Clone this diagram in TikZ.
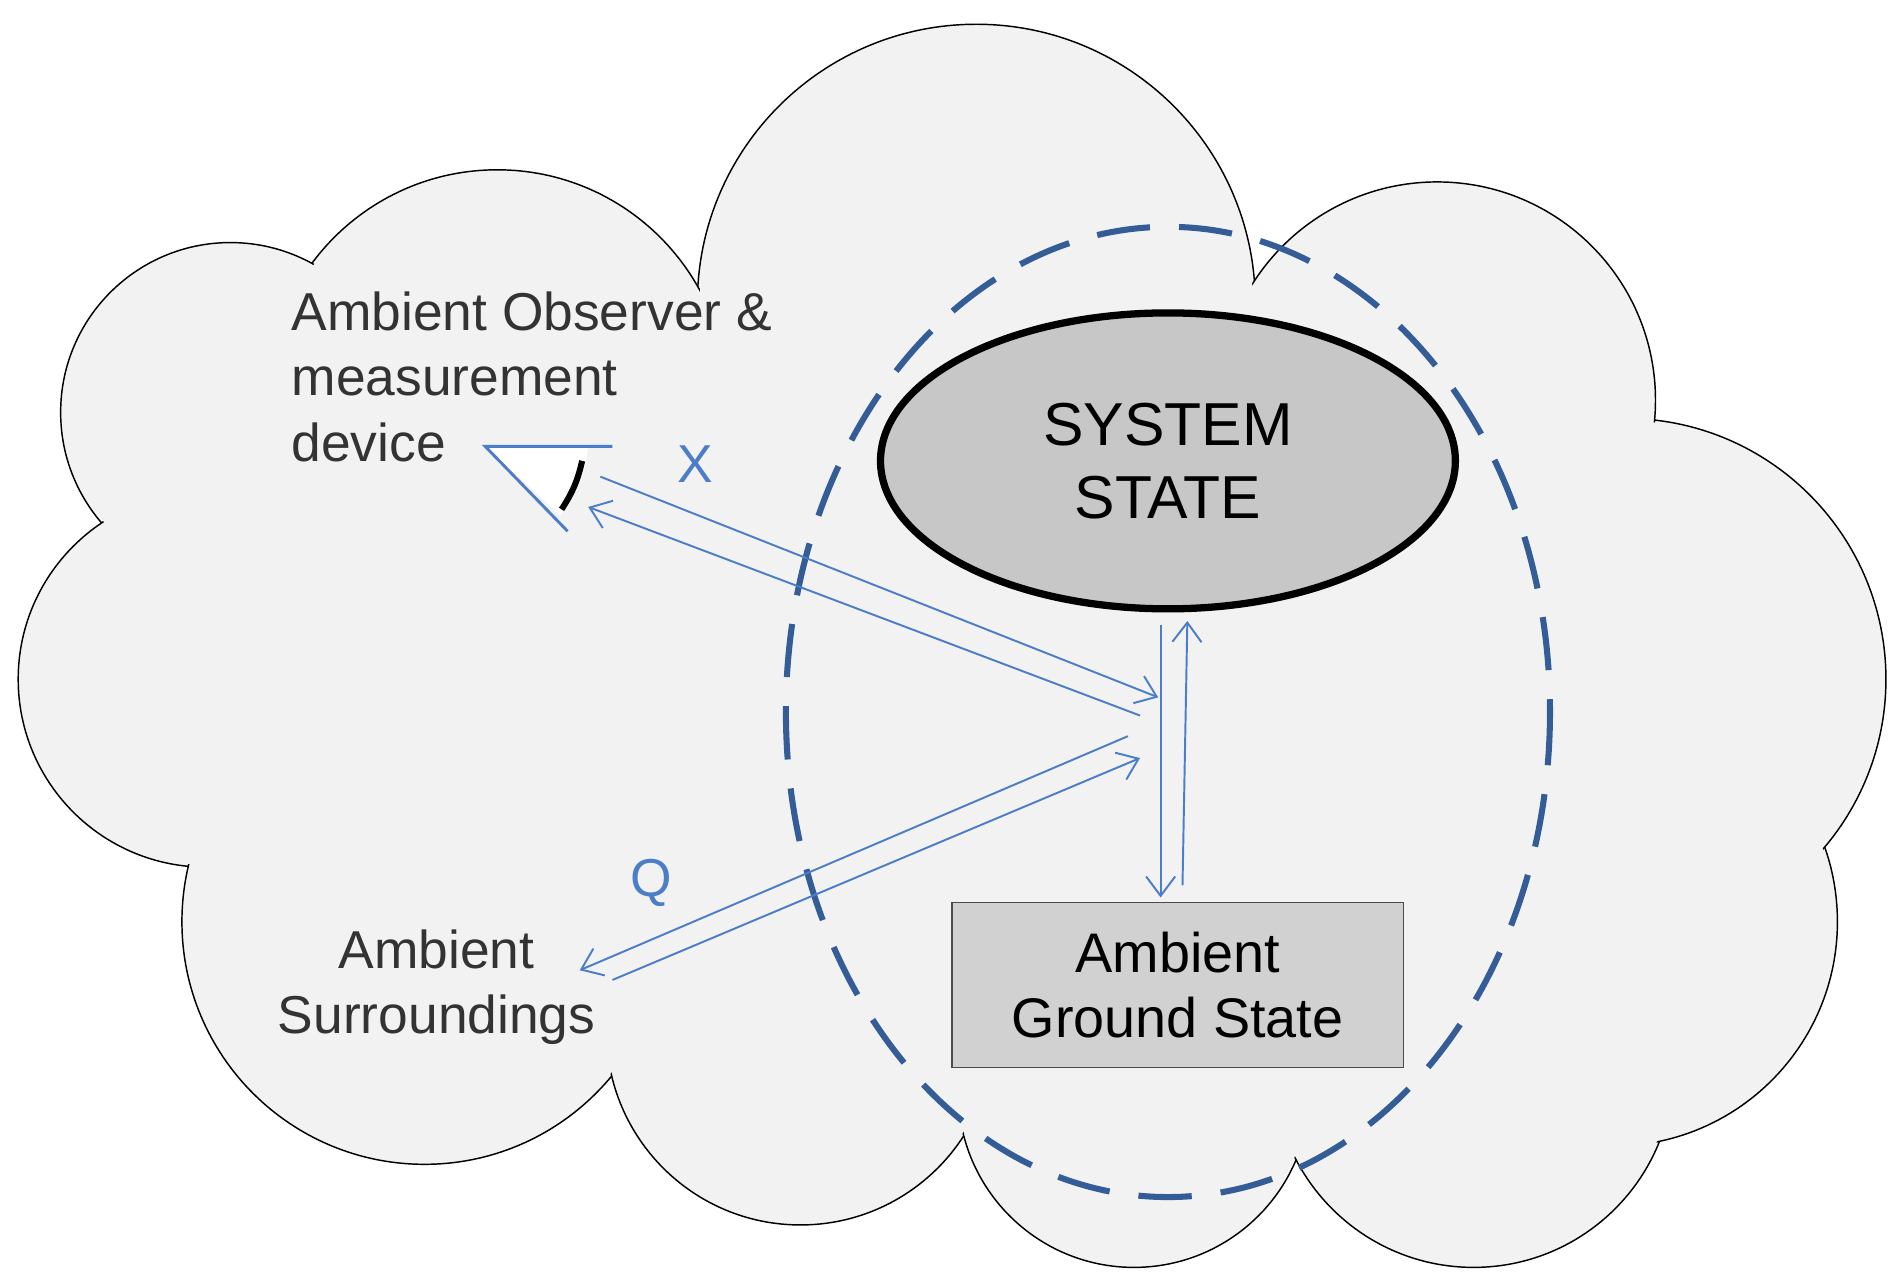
\documentclass[tikz,border=0pt]{standalone}
\usepackage{fontspec}
\setmainfont{Liberation Sans}
\usetikzlibrary{positioning,arrows.meta,shapes.geometric}
\definecolor{cloudgray}{RGB}{242,242,242}
\definecolor{dashblue}{RGB}{52,92,150}
\definecolor{arrowblue}{RGB}{75,125,200}
\tikzset{
  Lobe/.style={draw=black, line width=0.6pt, fill=cloudgray},
  Flecha/.style={-{Straight Barb[length=8pt,width=12pt]}, draw=arrowblue, line width=0.8pt},
  Rotulo/.style={text=arrowblue, font=\fontsize{22}{26}\selectfont},
  Texto/.style={text=black!80, font=\fontsize{22}{27}\selectfont, align=left, inner sep=0pt},
}
\begin{document}
\begin{tikzpicture}[x=0.5pt,y=-0.5pt]
\useasboundingbox (0,0) rectangle (1560,1060);
%Nube
\foreach \cx/\cy/\r in {805/250/230, 410/330/190, 190/340/140, 170/560/155, 350/760/200, 660/850/160, 935/900/145, 1215/880/165, 1330/760/185, 1340/560/215, 1185/330/180}
  \draw[Lobe] (\cx,\cy) circle (\r);
\foreach \cx/\cy/\r in {805/250/228, 410/330/188, 190/340/138, 170/560/153, 350/760/198, 660/850/158, 935/900/143, 1215/880/163, 1330/760/183, 1340/560/213, 1185/330/178}
  \fill[cloudgray] (\cx,\cy) circle (\r);
\fill[cloudgray] (805,250) -- (410,330) -- (190,340) -- (170,560) -- (350,760) -- (660,850) -- (935,900) -- (1215,880) -- (1330,760) -- (1340,560) -- (1185,330) -- cycle;
%Nodos
\draw[dashblue, line width=2.5pt, dash pattern=on 22pt off 12pt] (963,587) ellipse (315 and 400);
\node[ellipse, draw=black, line width=3pt, fill=black!22, minimum width=237pt, minimum height=122pt, inner sep=0pt,
  font=\fontsize{25}{30}\selectfont, align=center] (sistema) at (963,380) {SYSTEM\\STATE};
\node[draw=black!70, line width=0.6pt, fill=black!18, minimum width=186pt, minimum height=68pt, inner sep=0pt,
  font=\fontsize{23}{27}\selectfont, align=center] (fondo) at (971,812) {Ambient\\Ground State};
\node[Texto, anchor=north west] (observador) at (240,240) {Ambient Observer \&\\measurement\\device};
\node[Texto, align=center, anchor=north] (entorno) at (360,766) {Ambient\\Surroundings};
\node[Rotulo] (x) at (573,383) {X};
\node[Rotulo] (q) at (537,728) {Q};
%Ojo
\coordinate (ojo) at (400,368);
\fill[white] (ojo) -- (485,368) to[bend left=15] (462,425) -- cycle;
\draw[arrowblue, line width=1.2pt] (505,368) -- (ojo) -- (468,438);
\draw[black, line width=2.5pt] (480,380) to[bend left=10] (463,420);
%Lineas
\coordinate (x1) at (495,393);  \coordinate (x1e) at (955,575);
\coordinate (x2) at (940,590);  \coordinate (x2e) at (485,418);
\coordinate (q1) at (505,808);  \coordinate (q1e) at (940,625);
\coordinate (q2) at (930,607);  \coordinate (q2e) at (478,800);
\coordinate (v1) at (957,515);  \coordinate (v1e) at (957,740);
\coordinate (v2) at (975,730);  \coordinate (v2e) at (979,512);
\draw[Flecha] (x1) -- (x1e);
\draw[Flecha] (x2) -- (x2e);
\draw[Flecha] (q1) -- (q1e);
\draw[Flecha] (q2) -- (q2e);
\draw[Flecha] (v1) -- (v1e);
\draw[Flecha] (v2) -- (v2e);
\end{tikzpicture}
\end{document}
